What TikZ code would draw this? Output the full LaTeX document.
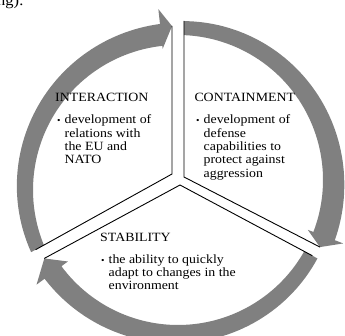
\documentclass[tikz,border=0pt]{standalone}
\usepackage{fontspec}
\setmainfont{Liberation Serif}[FakeStretch=1.1]
\definecolor{arrowgray}{RGB}{128,128,128}
\newcommand{\bul}{\makebox[7.5pt][l]{{\fontsize{9}{9}\selectfont\textbullet}}}
\begin{document}
\begin{tikzpicture}[x=1pt,y=1pt,
  band/.style={fill=arrowgray, draw=none},
  divider/.style={draw=black, line width=0.9pt, line join=miter},
  txt/.style={anchor=base west, inner sep=0pt, font=\fontsize{12.6}{13.3}\selectfont}]
\useasboundingbox (0,0) rectangle (345,335);

% partial caption line cut by the top edge
\node[anchor=base west, inner sep=0pt, font=\fontsize{15}{15}\selectfont] (cap) at (-3,329) {ng):};

% right segment
\begin{scope}[shift={(178,155)}]
\fill[band] plot[domain=87.84:-21, samples=60, variable=\t]
  ({(159+9*(87.84-\t)/108.84)*cos(\t)}, {(159+9*(87.84-\t)/108.84)*sin(\t)})
  -- (-21:177) -- (-25.3:157) -- (-21:139) -- (-21:145)
  arc[start angle=-21, end angle=87.63, radius=145] -- cycle;
\end{scope}

% bottom segment
\begin{scope}[shift={(178,155)}]
\fill[band] plot[domain=-29.36:-143.5, samples=60, variable=\t]
  ({(160+6*(-29.36-\t)/114.14)*cos(\t)}, {(160+6*(-29.36-\t)/114.14)*sin(\t)})
  -- (-143.5:176) -- (-149.6:155) -- (-143.5:137) -- (-143.5:145)
  arc[start angle=-143.5, end angle=-29.46, radius=145] -- cycle;
\end{scope}

% left segment
\begin{scope}[shift={(178,145)}]
\fill[band] plot[domain=202.95:96.2, samples=60, variable=\t]
  ({(159.5+7.5*(202.95-\t)/106.75)*cos(\t)}, {(159.5+7.5*(202.95-\t)/106.75)*sin(\t)})
  -- (96.2:182) -- (92.1:164) -- (96.2:142) -- (96.2:145)
  arc[start angle=96.2, end angle=202.3, radius=145] -- cycle;
\end{scope}

% dividers
\coordinate (A1) at (172,161);
\coordinate (A2) at (184,158);
\coordinate (A3) at (180,150);
\coordinate (E1) at (172,309);
\coordinate (E2) at (184,314);
\coordinate (E3) at (35.6,85.3);
\coordinate (E4) at (44.3,76.6);
\coordinate (E5) at (320,87.9);
\coordinate (E6) at (312.3,79.3);
\draw[divider] (E1) -- (A1) -- (E3);
\draw[divider] (E2) -- (A2) -- (E5);
\draw[divider] (E4) -- (A3) -- (E6);

% texts
\node[txt] (i0) at (55,233.3) {INTERACTION};
\node[txt] (i1) at (57,211) {\bul development of};
\node[txt] (i2) at (64.5,197.7) {relations with};
\node[txt] (i3) at (64.5,184.4) {the EU and};
\node[txt] (i4) at (64.5,171.1) {NATO};

\node[txt] (c0) at (194.3,233.3) {CONTAINMENT};
\node[txt] (c1) at (196,211) {\bul development of};
\node[txt] (c2) at (203.5,197.7) {defense};
\node[txt] (c3) at (203.5,184.4) {capabilities to};
\node[txt] (c4) at (203.5,171.1) {protect against};
\node[txt] (c5) at (203.5,157.8) {aggression};

\node[txt] (s0) at (100,93.3) {STABILITY};
\node[txt] (s1) at (101,71.7) {\bul the ability to quickly};
\node[txt] (s2) at (108.5,58.4) {adapt to changes in the};
\node[txt] (s3) at (108.5,45.1) {environment};
\end{tikzpicture}
\end{document}
